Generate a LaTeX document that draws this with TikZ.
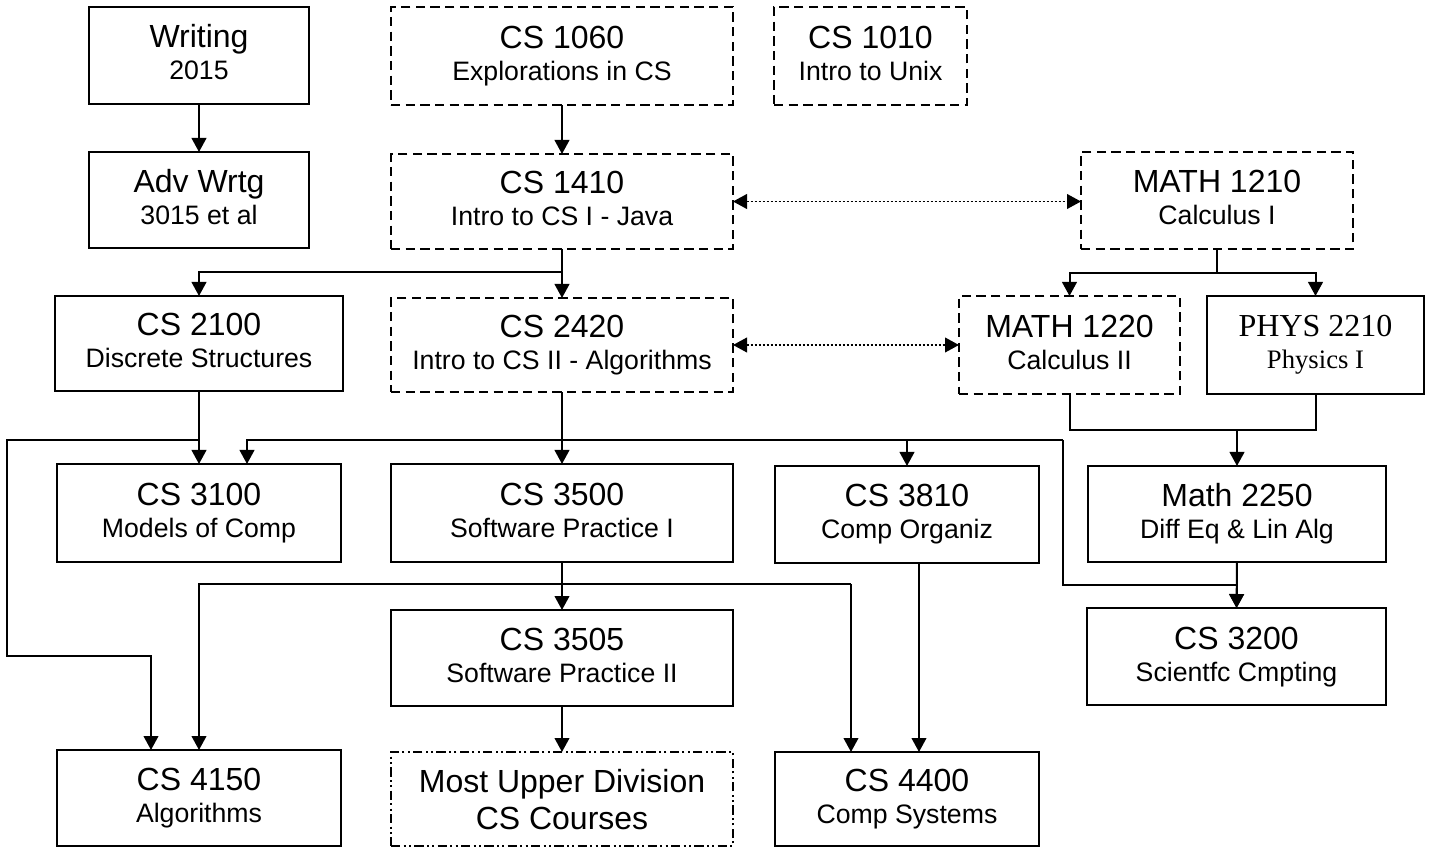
\documentclass[tikz,border=0pt]{standalone}
\usepackage{fontspec}
\setmainfont{Liberation Sans}
\newfontfamily\timesfont{Liberation Serif}
\usetikzlibrary{arrows.meta,calc}
\newcommand\coursetext[3]{%
  \node[bigtxt] (#1-a) at ($(#1.center)+(0,-7.5)$) {#2};
  \node[smalltxt] (#1-b) at ($(#1.center)+(0,24.5)$) {#3};}
\begin{document}
\begin{tikzpicture}[x=0.75pt,y=-0.75pt,
  box/.style={draw,line width=1.5pt,rectangle,inner sep=0pt,outer sep=0pt},
  dbox/.style={box,dash pattern=on 7pt off 4pt},
  ddbox/.style={box,dash pattern=on 7pt off 2.5pt on 1.5pt off 2.5pt on 1.5pt off 2.5pt},
  bigtxt/.style={anchor=base,inner sep=0pt,font=\fontsize{24}{28}\selectfont},
  smalltxt/.style={anchor=base,inner sep=0pt,font=\fontsize{20}{24}\selectfont},
  conn/.style={line width=1.5pt,-{Triangle[length=10.5pt,width=11pt]}},
  wire/.style={line width=1.5pt},
  dots/.style={line width=1.4pt,dash pattern=on 1.5pt off 1.5pt,{Triangle[length=10.5pt,width=11pt]}-{Triangle[length=10.5pt,width=11pt]}},
]
\useasboundingbox (0,0) rectangle (1429,848);
\fill[white] (0,0) rectangle (1429,848);

% boxes
\node[box,  minimum width=165pt,   minimum height=72.75pt] (writing)  at (199,55.5) {};
\node[box,  minimum width=165pt,   minimum height=72pt]    (advw)     at (199,200) {};
\node[dbox, minimum width=256.5pt, minimum height=73.5pt]  (cs1060)   at (562,56) {};
\node[dbox, minimum width=144.75pt,minimum height=73.5pt]  (cs1010)   at (870.5,56) {};
\node[dbox, minimum width=256.5pt, minimum height=71.25pt] (cs1410)   at (562,201.5) {};
\node[dbox, minimum width=204pt,   minimum height=72.75pt] (math1210) at (1217,200.5) {};
\node[box,  minimum width=216pt,   minimum height=71.25pt] (cs2100)   at (199,343.5) {};
\node[dbox, minimum width=256.5pt, minimum height=70.5pt]  (cs2420)   at (562,345) {};
\node[dbox, minimum width=165.75pt,minimum height=73.5pt]  (math1220) at (1069.5,345) {};
\node[box,  minimum width=162.75pt,minimum height=73.5pt]  (phys)     at (1315.5,345) {};
\node[box,  minimum width=213pt,   minimum height=73.5pt]  (cs3100)   at (199,513) {};
\node[box,  minimum width=256.5pt, minimum height=73.5pt]  (cs3500)   at (562,513) {};
\node[box,  minimum width=198pt,   minimum height=72.75pt] (cs3810)   at (907,514.5) {};
\node[box,  minimum width=223.5pt, minimum height=72pt]    (math2250) at (1237,514) {};
\node[box,  minimum width=256.5pt, minimum height=72pt]    (cs3505)   at (562,658) {};
\node[box,  minimum width=224.25pt,minimum height=72.75pt] (cs3200)   at (1236.5,656.5) {};
\node[box,  minimum width=213pt,   minimum height=72pt]    (cs4150)   at (199,798) {};
\node[ddbox,minimum width=256.5pt, minimum height=70.5pt]  (upper)    at (562,799) {};
\node[box,  minimum width=198pt,   minimum height=70.5pt]  (cs4400)   at (907,799) {};

% texts
\coursetext{writing}{Writing}{2015}
\coursetext{advw}{Adv Wrtg}{3015 et al}
\coursetext{cs1060}{CS 1060}{Explorations in CS}
\coursetext{cs1010}{CS 1010}{Intro to Unix}
\coursetext{cs1410}{CS 1410}{Intro to CS I - Java}
\coursetext{math1210}{MATH 1210}{Calculus I}
\coursetext{cs2100}{CS 2100}{Discrete Structures}
\coursetext{cs2420}{CS 2420}{Intro to CS II - Algorithms}
\coursetext{math1220}{MATH 1220}{Calculus II}
\node[bigtxt,font=\fontsize{24}{28}\timesfont] (phys-a) at ($(phys.center)+(0,-8.5)$) {PHYS 2210};
\node[smalltxt,font=\fontsize{20}{24}\timesfont] (phys-b) at ($(phys.center)+(0,24)$) {Physics I};
\coursetext{cs3100}{CS 3100}{Models of Comp}
\coursetext{cs3500}{CS 3500}{Software Practice I}
\coursetext{cs3810}{CS 3810}{Comp Organiz}
\coursetext{math2250}{Math 2250}{Diff Eq \& Lin Alg}
\coursetext{cs3505}{CS 3505}{Software Practice II}
\coursetext{cs3200}{CS 3200}{Scientfc Cmpting}
\coursetext{cs4150}{CS 4150}{Algorithms}
\node[bigtxt] (upper-a) at ($(upper.center)+(0,-6.5)$) {Most Upper Division};
\node[bigtxt] (upper-b) at ($(upper.center)+(0,30.5)$) {CS Courses};
\coursetext{cs4400}{CS 4400}{Comp Systems}

% junction coordinates
\coordinate (j1) at (562,272);
\coordinate (j2) at (1217,273);
\coordinate (j3) at (199,440);
\coordinate (l1) at (7,440);
\coordinate (l2) at (7,656);
\coordinate (b1R) at (1063,440);
\coordinate (b1D) at (1063,585);
\coordinate (m1) at (1069.5,430);
\coordinate (b2R) at (851,584);

% connectors
\draw[conn] (writing) -- (advw);
\draw[conn] (cs1060) -- (cs1410);
\draw[dots] (cs1410.east) -- (cs1410.east -| math1210.west);
\draw[wire] (cs1410.south) -- (j1);
\draw[conn] (j1) -| (cs2100.north);
\draw[conn] (j1) -- (cs2420.north);
\draw[wire] (math1210.south) -- (j2);
\draw[conn] (j2) -| (math1220.north);
\draw[conn] (j2) -| (phys.north);
\draw[dots] (cs2420.east) -- (cs2420.east -| math1220.west);
\draw[conn] (cs2100) -- (cs3100);
\draw[conn] (j3) -- (l1) -- (l2) -| ($(cs4150.north)+(-48,0)$);
\draw[conn] (cs2420) -- (cs3500);
\draw[conn] (b1R) -| ($(cs3100.north)+(48,0)$);
\draw[conn] (cs3810.north |- b1R) -- (cs3810.north);
\draw[conn] (b1R) -- (b1D) -| (cs3200.north);
\draw[wire] (math1220.south) -- (m1) -| (phys.south);
\draw[conn] (math2250.north |- m1) -- (math2250.north);
\draw[conn] (math2250) -- (cs3200);
\draw[conn] (cs3500) -- (cs3505);
\draw[conn] (b2R) -| (cs4150.north);
\draw[conn] (b2R) -- (b2R |- cs4400.north);
\draw[conn] ($(cs3810.south)+(12,0)$) -- ($(cs4400.north)+(12,0)$);
\draw[conn] (cs3505) -- (upper);
\end{tikzpicture}
\end{document}
